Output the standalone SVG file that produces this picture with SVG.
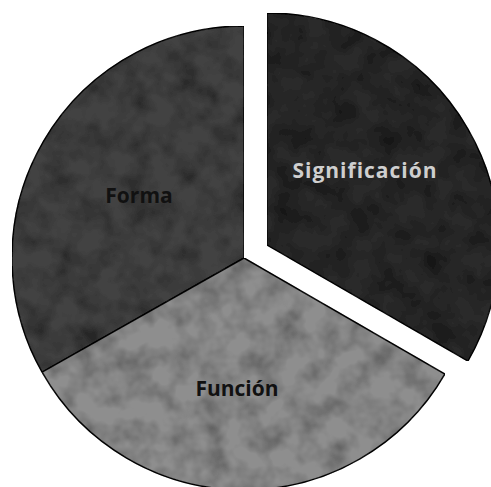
<svg xmlns="http://www.w3.org/2000/svg" width="491" height="487" viewBox="0 0 491 487">
  <style>
    .slice { stroke: #111; stroke-width: 1.5; stroke-linejoin: miter; }
    .lbl { font-family: "Open Sans", "Liberation Sans", sans-serif; font-size: 21px; font-weight: 700; text-anchor: middle; }
    .dark { fill: #111; }
    .light { fill: #cfcfcf; letter-spacing: 1px; }
  </style>
  <defs>
    <filter id="grain" x="0" y="0" width="100%" height="100%">
      <feTurbulence type="fractalNoise" baseFrequency="0.04" numOctaves="3" seed="7" result="n"/>
      <feColorMatrix in="n" type="matrix" values="0 0 0 0 0  0 0 0 0 0  0 0 0 0 0  1.2 0 0 0 -0.45" result="a"/>
      <feComposite in="a" in2="SourceGraphic" operator="in" result="d"/>
      <feMerge><feMergeNode in="SourceGraphic"/><feMergeNode in="d"/></feMerge>
    </filter>
  </defs>
  <rect width="491" height="487" fill="#ffffff"/>
  <g id="forma">
    <path class="slice" fill="#434343" filter="url(#grain)" d="M244,258 L244,26 A232,232 0 0,0 42.1,372.2 Z"/>
    <text class="lbl dark" x="139" y="203">Forma</text>
  </g>
  <g id="funcion">
    <path class="slice" fill="#8e8e8e" filter="url(#grain)" d="M244,258 L42.1,372.2 A232,232 0 0,0 444.9,374 Z"/>
    <text class="lbl dark" x="237" y="396">Función</text>
  </g>
  <g id="significacion">
    <path class="slice" fill="#2c2c2c" filter="url(#grain)" d="M267,245 L267,13 A232,232 0 0,1 467.9,361 Z"/>
    <text class="lbl light" x="365" y="178">Significación</text>
  </g>
  <g id="connectors"></g>
</svg>
